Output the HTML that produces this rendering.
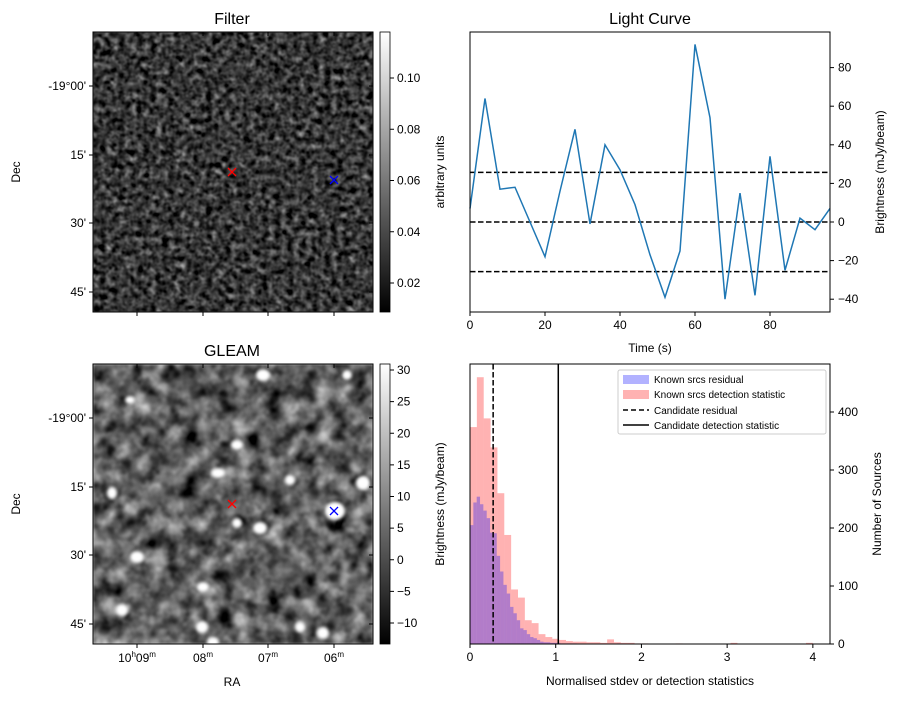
<!DOCTYPE html>
<html><head><meta charset="utf-8">
<style>
body{margin:0;background:#fff;}
svg text{font-family:"Liberation Sans",sans-serif;fill:#000;}
</style></head>
<body>
<svg id="fig" width="898" height="699" viewBox="0 0 898 699" xmlns="http://www.w3.org/2000/svg">
<defs>
<filter id="noiseA" x="0" y="0" width="100%" height="100%" color-interpolation-filters="sRGB">
<feTurbulence type="fractalNoise" baseFrequency="0.16" numOctaves="2" seed="3"/>
<feColorMatrix type="matrix" values="0.33 0.33 0.33 0 0  0.33 0.33 0.33 0 0  0.33 0.33 0.33 0 0  0 0 0 0 1"/>
<feGaussianBlur stdDeviation="0.6"/>
<feComponentTransfer><feFuncR type="linear" slope="1.6" intercept="-0.58"/><feFuncG type="linear" slope="1.6" intercept="-0.58"/><feFuncB type="linear" slope="1.6" intercept="-0.58"/></feComponentTransfer>
</filter>
<filter id="noiseB" x="0" y="0" width="100%" height="100%" color-interpolation-filters="sRGB">
<feTurbulence type="fractalNoise" baseFrequency="0.06" numOctaves="3" seed="7"/>
<feColorMatrix type="matrix" values="0.33 0.33 0.33 0 0  0.33 0.33 0.33 0 0  0.33 0.33 0.33 0 0  0 0 0 0 1"/>
<feGaussianBlur stdDeviation="1"/>
<feComponentTransfer><feFuncR type="linear" slope="2.0" intercept="-0.62"/><feFuncG type="linear" slope="2.0" intercept="-0.62"/><feFuncB type="linear" slope="2.0" intercept="-0.62"/></feComponentTransfer>
</filter>
<filter id="blur2"><feGaussianBlur stdDeviation="1.5"/></filter>
<linearGradient id="gray" x1="0" y1="1" x2="0" y2="0"><stop offset="0" stop-color="#000"/><stop offset="1" stop-color="#fff"/></linearGradient>
<clipPath id="clipB"><rect x="93" y="364" width="280" height="280"/></clipPath>
</defs>

<g>
<text x="232" y="24" font-size="16" text-anchor="middle">Filter</text>
<rect x="93" y="32" width="280" height="280" filter="url(#noiseA)"/>
<rect x="93" y="32" width="280" height="280" fill="none" stroke="#000" stroke-width="1"/>
<g stroke="red" stroke-width="1.3"><line x1="228" y1="168" x2="236" y2="176"/><line x1="236" y1="168" x2="228" y2="176"/></g>
<g stroke="blue" stroke-width="1.3"><line x1="330" y1="176" x2="338" y2="184"/><line x1="338" y1="176" x2="330" y2="184"/></g>
<rect x="380" y="32" width="10" height="280" fill="url(#gray)" stroke="#000" stroke-width="0.8"/>
<text transform="translate(444,172) rotate(-90)" font-size="12" text-anchor="middle">arbitrary units</text>
</g>

<g>
<text x="232" y="356" font-size="16" text-anchor="middle">GLEAM</text>
<g clip-path="url(#clipB)">
<rect x="93" y="364" width="280" height="280" filter="url(#noiseB)"/>
<g id="blobs" fill="#fff" filter="url(#blur2)"></g>
</g>
<rect x="93" y="364" width="280" height="280" fill="none" stroke="#000" stroke-width="1"/>
<g stroke="red" stroke-width="1.3"><line x1="228" y1="500" x2="236" y2="508"/><line x1="236" y1="500" x2="228" y2="508"/></g>
<g stroke="blue" stroke-width="1.3"><line x1="330" y1="507" x2="338" y2="515"/><line x1="338" y1="507" x2="330" y2="515"/></g>
<rect x="380" y="364" width="10" height="280" fill="url(#gray)" stroke="#000" stroke-width="0.8"/>
<text transform="translate(444,504) rotate(-90)" font-size="12" text-anchor="middle">Brightness (mJy/beam)</text>
<text x="232" y="686" font-size="12" text-anchor="middle">RA</text>
</g>
<text transform="translate(20,172) rotate(-90)" font-size="12" text-anchor="middle">Dec</text>
<text transform="translate(20,504) rotate(-90)" font-size="12" text-anchor="middle">Dec</text>

<g>
<text x="650" y="24" font-size="16" text-anchor="middle">Light Curve</text>
<g id="lc"></g>
<rect x="470" y="32" width="360" height="280" fill="none" stroke="#000" stroke-width="1"/>
<text x="650" y="352" font-size="12" text-anchor="middle">Time (s)</text>
<text transform="translate(884,172) rotate(-90)" font-size="12" text-anchor="middle">Brightness (mJy/beam)</text>
</g>

<g>
<g id="hist"></g>
<rect x="470" y="364" width="360" height="280" fill="none" stroke="#000" stroke-width="1"/>
<text x="650" y="685" font-size="12" text-anchor="middle">Normalised stdev or detection statistics</text>
<text transform="translate(881,504) rotate(-90)" font-size="12" text-anchor="middle">Number of Sources</text>
<g>
<rect x="618" y="370" width="208" height="64" fill="#fff" fill-opacity="0.8" stroke="#ccc" rx="2"/>
<rect x="623" y="375" width="26" height="9" fill="rgba(0,0,255,0.3)"/>
<text x="654" y="383" font-size="10">Known srcs residual</text>
<rect x="623" y="390" width="26" height="9" fill="rgba(255,0,0,0.3)"/>
<text x="654" y="398" font-size="10">Known srcs detection statistic</text>
<line x1="623" y1="410" x2="649" y2="410" stroke="#000" stroke-width="1.5" stroke-dasharray="5,3"/>
<text x="654" y="414" font-size="10">Candidate residual</text>
<line x1="623" y1="425" x2="649" y2="425" stroke="#000" stroke-width="1.5"/>
<text x="654" y="429" font-size="10">Candidate detection statistic</text>
</g>
</g>
</svg>
<script>
const NS='http://www.w3.org/2000/svg';
function mk(tag,attrs,parent){const e=document.createElementNS(NS,tag);for(const k in attrs)e.setAttribute(k,attrs[k]);parent.appendChild(e);return e;}
const fig=document.getElementById('fig');

const lcTimes=[0,4,8,12,16,20,24,28,32,36,40,44,48,52,56,60,64,68,72,76,80,84,88,92,96];
const lcValues=[7,64,17,18,0,-18,16,48,-1,40,27,9,-17,-39,-15,92,54,-40,15,-38,34,-25,2,-4,7];
const lcThresholds=[-25.7,0,25.7];
const lcXTicks=[0,20,40,60,80];
const lcYTicks=[-40,-20,0,20,40,60,80];
const lxs=t=>470+t*(360/96);
const lys=v=>222-v*1.93;
const lc=document.getElementById('lc');
lcThresholds.forEach(v=>{const l=mk('line',{x1:470,x2:830,y1:lys(v),y2:lys(v),stroke:'#000','stroke-width':1.5,'stroke-dasharray':'5.5,2.5'},lc);

});
const pl=mk('polyline',{points:lcTimes.map((t,i)=>lxs(t)+','+lys(lcValues[i])).join(' '),fill:'none',stroke:'#1f77b4','stroke-width':1.5},lc);


lcXTicks.forEach(t=>{mk('line',{x1:lxs(t),x2:lxs(t),y1:312,y2:316,stroke:'#000'},lc);const tx=mk('text',{x:lxs(t),y:329,'font-size':12,'text-anchor':'middle'},lc);tx.textContent=t;

});
lcYTicks.forEach(v=>{mk('line',{x1:830,x2:834,y1:lys(v),y2:lys(v),stroke:'#000'},lc);const tx=mk('text',{x:838,y:lys(v)+4,'font-size':12},lc);tx.textContent=v<0?'\u2212'+(-v):v;

});

const redWidth=0.08;
const redCounts=[374,460,389,339,260,188,94,80,41,36,17,12,9,7,5,4,4,3,3,2,8,3,2,2,1,1,0,0,0,0,1,0,0,0,0,0,0,0,2,0,0,0,0,0,0,0,0,0,0,2];
const blueWidth=0.039;
const blueCounts=[205,244,254,241,230,217,192,191,152,125,102,87,64,53,41,27,24,17,12,10,7,4,3,3,2,2,2,1,1,1,1,1,0,0,0,0,0,0,0,0,0,0,0,0,1];
const candResidual=0.27, candDetection=1.03;
const hXTicks=[0,1,2,3,4];
const hYTicks=[0,100,200,300,400];
const hx=v=>470+v*(360/4.2);
const hy=c=>644-c*0.58;
const hist=document.getElementById('hist');
redCounts.forEach((c,i)=>{if(!c)return;const r=mk('rect',{x:hx(i*redWidth),y:hy(c),width:hx(redWidth)-470,height:644-hy(c),fill:'rgba(255,0,0,0.3)'},hist);

});
blueCounts.forEach((c,i)=>{if(!c)return;const r=mk('rect',{x:hx(i*blueWidth),y:hy(c),width:hx(blueWidth)-470,height:644-hy(c),fill:'rgba(0,0,255,0.3)'},hist);

});
const l1=mk('line',{x1:hx(candResidual),x2:hx(candResidual),y1:364,y2:644,stroke:'#000','stroke-width':1.5,'stroke-dasharray':'5.5,2.5'},hist);


const l2=mk('line',{x1:hx(candDetection),x2:hx(candDetection),y1:364,y2:644,stroke:'#000','stroke-width':1.5},hist);


hXTicks.forEach(t=>{mk('line',{x1:hx(t),x2:hx(t),y1:644,y2:648,stroke:'#000'},hist);const tx=mk('text',{x:hx(t),y:661,'font-size':12,'text-anchor':'middle'},hist);tx.textContent=t;

});
hYTicks.forEach(v=>{mk('line',{x1:830,x2:834,y1:hy(v),y2:hy(v),stroke:'#000'},hist);const tx=mk('text',{x:838,y:hy(v)+4,'font-size':12},hist);tx.textContent=v;

});

const decLabels=["-19°00'","15'","30'","45'"];
const decTop=[86,155,223,292];
const raLabels=["10h09m","08m","07m","06m"];
const raX=[137,203,268,334];
decLabels.forEach((s,i)=>{[0,332].forEach(off=>{const y=decTop[i]+off;mk('line',{x1:89,x2:93,y1:y,y2:y,stroke:'#000'},fig);mk('line',{x1:373,x2:369,y1:y,y2:y,stroke:'#000'},fig);
const tx=mk('text',{x:86,y:y+4,'font-size':12,'text-anchor':'end'},fig);tx.textContent=s;

});});
raLabels.forEach((s,i)=>{[0,332].forEach(off=>{mk('line',{x1:raX[i],x2:raX[i],y1:312+off,y2:316+off,stroke:'#000'},fig);mk('line',{x1:raX[i],x2:raX[i],y1:32+off,y2:36+off,stroke:'#000'},fig);});
const tx=mk('text',{x:raX[i],y:662,'font-size':12,'text-anchor':'middle'},fig);
if(i==0){tx.innerHTML='10<tspan font-size="8" dy="-5">h</tspan><tspan dy="5">09</tspan><tspan font-size="8" dy="-5">m</tspan>';}
else{tx.innerHTML=s.slice(0,2)+'<tspan font-size="8" dy="-5">m</tspan>';}

});
const cbFilterTicks=[0.02,0.04,0.06,0.08,0.10];
const cbF=v=>283-(v-0.02)*(205/0.08);
cbFilterTicks.forEach(v=>{const y=cbF(v);mk('line',{x1:390,x2:394,y1:y,y2:y,stroke:'#000'},fig);const tx=mk('text',{x:397,y:y+4,'font-size':12},fig);tx.textContent=v.toFixed(2);

});
const cbGleamTicks=[-10,-5,0,5,10,15,20,25,30];
const cbG=v=>623-(v+10)*(253/40);
cbGleamTicks.forEach(v=>{const y=cbG(v);mk('line',{x1:390,x2:394,y1:y,y2:y,stroke:'#000'},fig);const tx=mk('text',{x:397,y:y+4,'font-size':12},fig);tx.textContent=v<0?'\u2212'+(-v):v;

});
const blobs=[[263,375,7,6],[237,445,6,5],[218,473,7,5],[363,483,7,7],[112,493,5,6],[290,480,5,5],[260,528,7,6],[237,523,5,5],[137,557,7,6],[203,587,6,5],[122,610,6,6],[202,627,6,6],[323,633,6,6],[300,627,5,5],[213,642,6,5],[335,511,10,9],[347,375,5,5],[130,400,5,4]];
const bg=document.getElementById('blobs');
blobs.forEach(b=>{const e=mk('ellipse',{cx:b[0],cy:b[1],rx:b[2],ry:b[3]},bg);

});
</script>
</body></html>
